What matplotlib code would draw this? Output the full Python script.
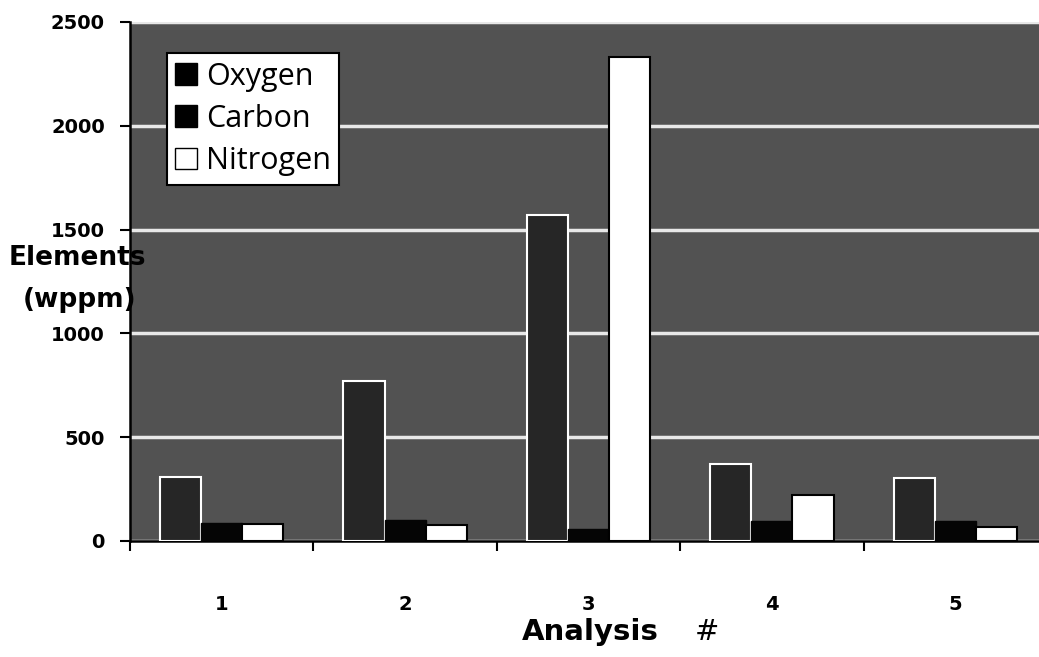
import numpy as np
import matplotlib
matplotlib.use('Agg')
import matplotlib.pyplot as plt
from matplotlib.patches import Patch

analysis = ['1', '2', '3', '4', '5']
oxygen = [310, 770, 1570, 370, 305]
carbon = [85, 100, 60, 95, 95]
nitrogen = [80, 75, 2330, 220, 65]

fig = plt.figure(figsize=(10.39, 6.57), dpi=100)
ax = fig.add_axes([0.1251, 0.1766, 0.8826, 0.79])
ax.set_facecolor('#525252')

x = np.arange(len(analysis))
w = 0.224
ax.bar(x - w, oxygen, w, color='#262626', edgecolor='white', linewidth=1.5, zorder=3)
ax.bar(x, carbon, w, color='#050505', edgecolor='#050505', linewidth=1, zorder=3)
ax.bar(x + w, nitrogen, w, color='white', edgecolor='black', linewidth=1.5, zorder=3)

ax.set_xlim(-0.5, 4.5)
ax.set_ylim(0, 2500)
ax.set_yticks([0, 500, 1000, 1500, 2000, 2500])
ax.yaxis.grid(True, color='#e8e8e8', linewidth=2.5, zorder=1)
ax.set_axisbelow(True)

ax.set_xticks(x)
ax.set_xticklabels(analysis, fontsize=14, fontweight='bold')
ax.set_xticks(np.arange(-0.5, 4.5, 1), minor=True)
ax.tick_params(axis='x', which='major', length=0, pad=39)
ax.tick_params(axis='x', which='minor', length=7, width=1.5, direction='out')
ax.tick_params(axis='y', length=7, width=1.5, direction='out', pad=11)
for lab in ax.get_yticklabels():
    lab.set_fontsize(14)
    lab.set_fontweight('bold')

for s in ['top', 'right']:
    ax.spines[s].set_visible(False)
ax.spines['left'].set_linewidth(1.8)
ax.spines['bottom'].set_linewidth(1.8)

handles = [Patch(facecolor='black', edgecolor='black', label='Oxygen'),
           Patch(facecolor='black', edgecolor='black', label='Carbon'),
           Patch(facecolor='white', edgecolor='black', label='Nitrogen')]
leg = ax.legend(handles=handles, loc='upper left', bbox_to_anchor=(0.040, 0.940),
                borderaxespad=0, fancybox=False, framealpha=1, edgecolor='black',
                handlelength=0.7, handleheight=0.7, handletextpad=0.3,
                borderpad=0.28, labelspacing=0.4, prop={'family': 'Open Sans', 'size': 22})
leg.get_frame().set_linewidth(1.5)
leg.set_zorder(5)

fig.text(0.008, 0.607, 'Elements', fontsize=19, fontweight='bold', ha='left', va='center')
fig.text(0.022, 0.543, '(wppm)', fontsize=19, fontweight='bold', ha='left', va='center')
fig.text(0.568, 0.038, 'Analysis', fontsize=21, fontweight='bold', ha='center', va='center')
fig.text(0.680, 0.038, '#', fontsize=21, ha='center', va='center')

plt.savefig('out.png', dpi=100)
